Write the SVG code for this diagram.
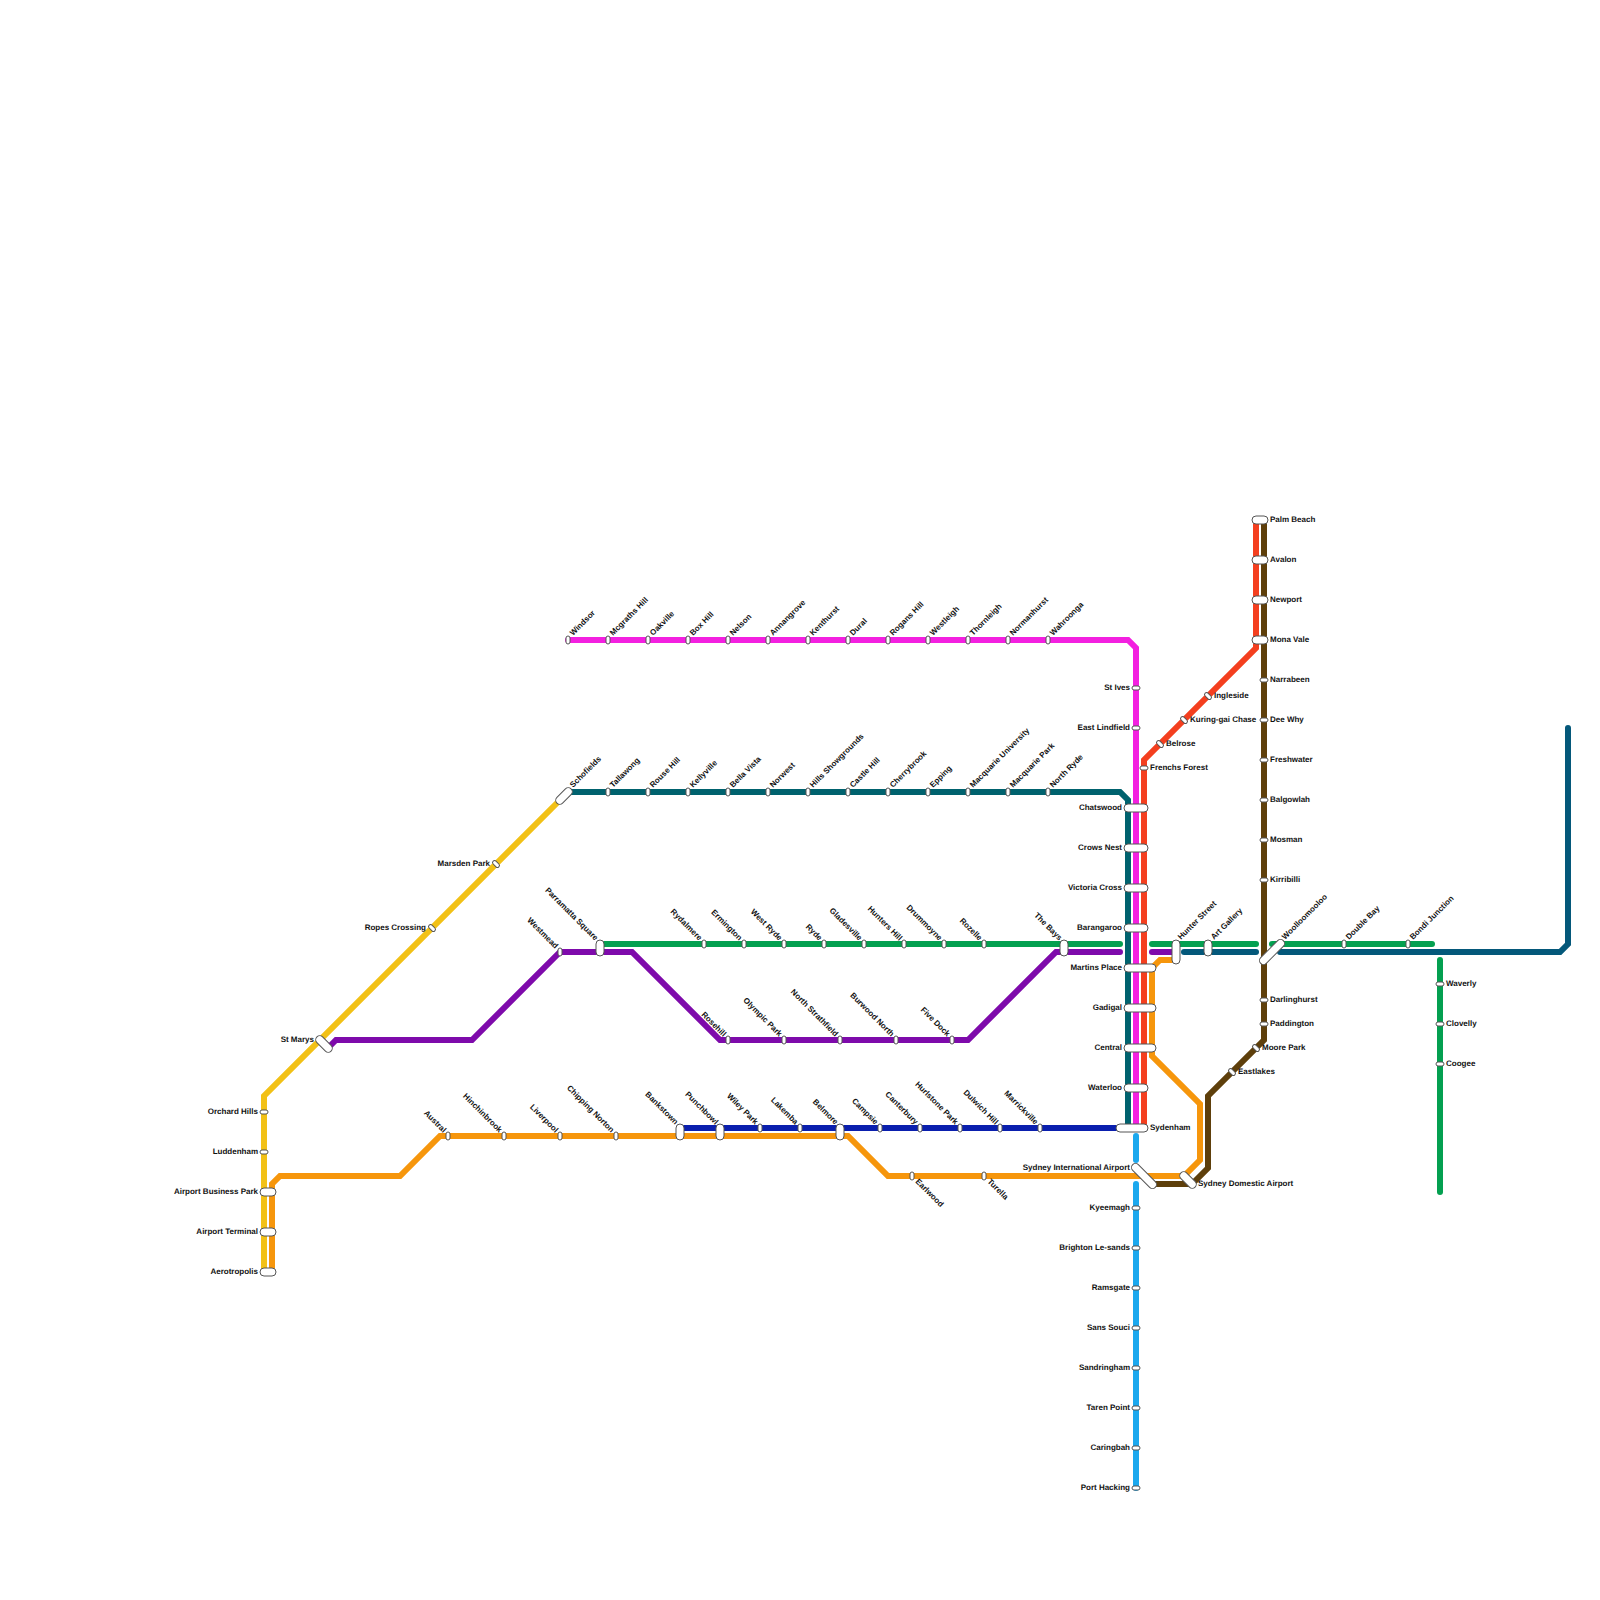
<svg xmlns="http://www.w3.org/2000/svg" width="1600" height="1600" viewBox="0 0 1600 1600">
<style>
text{font-family:"Liberation Sans",Arial,sans-serif;font-size:8px;font-weight:bold;fill:#111;text-rendering:geometricPrecision}
.l{text-anchor:end}
.ln{fill:none;stroke-width:6;stroke-linecap:round;stroke-linejoin:miter}
rect,use{fill:#fff;stroke:#555;stroke-width:1}
</style>
<defs>
<rect id="sv" x="-2" y="-4" width="4" height="8" rx="2"/>
<rect id="sh" x="-4" y="-2" width="8" height="4" rx="2"/>
<rect id="m8" x="-4" y="-8" width="8" height="16" rx="4"/>
<rect id="h24" x="-12" y="-4" width="24" height="8" rx="4"/>
<rect id="h32" x="-16" y="-4" width="32" height="8" rx="4"/>
<rect id="h16" x="-8" y="-4" width="16" height="8" rx="4"/>
</defs>
<rect x="0" y="0" width="1600" height="1600" style="fill:#fff;stroke:none"/>
<g id="connectors">
<path class="ln" style="stroke:#f2c116" d="M264 1272V1096L568 792"/>
<path class="ln" style="stroke:#f6960c" d="M272 1272V1184L280 1176H400L440 1136H848L888 1176H1184L1200 1160V1104L1152 1056V968L1160 960H1176"/>
<path class="ln" style="stroke:#5e3f0b" d="M1264 520V1040L1208 1096V1168L1192 1184H1152"/>
<path class="ln" style="stroke:#f43f1f" d="M1144 1128V760L1256 648V520"/>
<path class="ln" style="stroke:#00626e" d="M568 792H1120L1128 800V1128"/>
<path class="ln" style="stroke:#f320e0" d="M568 640H1128L1136 648V1128"/>
<path class="ln" style="stroke:#0a1fae" d="M680 1128H1120"/>
<path class="ln" style="stroke:#7e0aab" d="M328 1048L336 1040H472L560 952H632L720 1040H968L1056 952H1120"/>
<path class="ln" style="stroke:#7e0aab" d="M1152 952H1176"/>
<path class="ln" style="stroke:#04a050" d="M600 944H1120"/>
<path class="ln" style="stroke:#04a050" d="M1152 944H1256"/>
<path class="ln" style="stroke:#04a050" d="M1272 944H1432"/>
<path class="ln" style="stroke:#04a050" d="M1440 960V1192"/>
<path class="ln" style="stroke:#04587a" d="M1184 952H1256"/>
<path class="ln" style="stroke:#04587a" d="M1280 952H1560L1568 944V728"/>
<path class="ln" style="stroke:#1ba8ee" d="M1136 1136V1160"/>
<path class="ln" style="stroke:#1ba8ee" d="M1136 1184V1488"/>
</g>
<g id="n-windsor"><use href="#sv" x="568" y="640"/><text transform="translate(573 636) rotate(-45)">Windsor</text></g>
<g id="n-mcgraths-hill"><use href="#sv" x="608" y="640"/><text transform="translate(613 636) rotate(-45)">Mcgraths Hill</text></g>
<g id="n-oakville"><use href="#sv" x="648" y="640"/><text transform="translate(653 636) rotate(-45)">Oakville</text></g>
<g id="n-box-hill"><use href="#sv" x="688" y="640"/><text transform="translate(693 636) rotate(-45)">Box Hill</text></g>
<g id="n-nelson"><use href="#sv" x="728" y="640"/><text transform="translate(733 636) rotate(-45)">Nelson</text></g>
<g id="n-annangrove"><use href="#sv" x="768" y="640"/><text transform="translate(773 636) rotate(-45)">Annangrove</text></g>
<g id="n-kenthurst"><use href="#sv" x="808" y="640"/><text transform="translate(813 636) rotate(-45)">Kenthurst</text></g>
<g id="n-dural"><use href="#sv" x="848" y="640"/><text transform="translate(853 636) rotate(-45)">Dural</text></g>
<g id="n-rogans-hill"><use href="#sv" x="888" y="640"/><text transform="translate(893 636) rotate(-45)">Rogans Hill</text></g>
<g id="n-westleigh"><use href="#sv" x="928" y="640"/><text transform="translate(933 636) rotate(-45)">Westleigh</text></g>
<g id="n-thornleigh"><use href="#sv" x="968" y="640"/><text transform="translate(973 636) rotate(-45)">Thornleigh</text></g>
<g id="n-normanhurst"><use href="#sv" x="1008" y="640"/><text transform="translate(1013 636) rotate(-45)">Normanhurst</text></g>
<g id="n-wahroonga"><use href="#sv" x="1048" y="640"/><text transform="translate(1053 636) rotate(-45)">Wahroonga</text></g>
<g id="n-st-ives"><use href="#sh" x="1136" y="688"/><text class="l" x="1130" y="690">St Ives</text></g>
<g id="n-east-lindfield"><use href="#sh" x="1136" y="728"/><text class="l" x="1130" y="730">East Lindfield</text></g>
<g id="n-schofields"><rect x="-10" y="-4" width="20" height="8" rx="4" transform="translate(564 796) rotate(-45)"/><text transform="translate(573 788) rotate(-45)">Schofields</text></g>
<g id="n-tallawong"><use href="#sv" x="608" y="792"/><text transform="translate(613 788) rotate(-45)">Tallawong</text></g>
<g id="n-rouse-hill"><use href="#sv" x="648" y="792"/><text transform="translate(653 788) rotate(-45)">Rouse Hill</text></g>
<g id="n-kellyville"><use href="#sv" x="688" y="792"/><text transform="translate(693 788) rotate(-45)">Kellyville</text></g>
<g id="n-bella-vista"><use href="#sv" x="728" y="792"/><text transform="translate(733 788) rotate(-45)">Bella Vista</text></g>
<g id="n-norwest"><use href="#sv" x="768" y="792"/><text transform="translate(773 788) rotate(-45)">Norwest</text></g>
<g id="n-hills-showgrounds"><use href="#sv" x="808" y="792"/><text transform="translate(813 788) rotate(-45)">Hills Showgrounds</text></g>
<g id="n-castle-hill"><use href="#sv" x="848" y="792"/><text transform="translate(853 788) rotate(-45)">Castle Hill</text></g>
<g id="n-cherrybrook"><use href="#sv" x="888" y="792"/><text transform="translate(893 788) rotate(-45)">Cherrybrook</text></g>
<g id="n-epping"><use href="#sv" x="928" y="792"/><text transform="translate(933 788) rotate(-45)">Epping</text></g>
<g id="n-macquarie-university"><use href="#sv" x="968" y="792"/><text transform="translate(973 788) rotate(-45)">Macquarie University</text></g>
<g id="n-macquarie-park"><use href="#sv" x="1008" y="792"/><text transform="translate(1013 788) rotate(-45)">Macquarie Park</text></g>
<g id="n-north-ryde"><use href="#sv" x="1048" y="792"/><text transform="translate(1053 788) rotate(-45)">North Ryde</text></g>
<g id="n-chatswood"><use href="#h24" x="1136" y="808"/><text class="l" x="1122" y="810">Chatswood</text></g>
<g id="n-crows-nest"><use href="#h24" x="1136" y="848"/><text class="l" x="1122" y="850">Crows Nest</text></g>
<g id="n-victoria-cross"><use href="#h24" x="1136" y="888"/><text class="l" x="1122" y="890">Victoria Cross</text></g>
<g id="n-barangaroo"><use href="#h24" x="1136" y="928"/><text class="l" x="1122" y="930">Barangaroo</text></g>
<g id="n-martins-place"><use href="#h32" x="1140" y="968"/><text class="l" x="1122" y="970">Martins Place</text></g>
<g id="n-gadigal"><use href="#h32" x="1140" y="1008"/><text class="l" x="1122" y="1010">Gadigal</text></g>
<g id="n-central"><use href="#h32" x="1140" y="1048"/><text class="l" x="1122" y="1050">Central</text></g>
<g id="n-waterloo"><use href="#h24" x="1136" y="1088"/><text class="l" x="1122" y="1090">Waterloo</text></g>
<g id="n-sydenham"><use href="#h32" x="1132" y="1128"/><text x="1150" y="1130">Sydenham</text></g>
<g id="n-frenchs-forest"><use href="#sh" x="1144" y="768"/><text x="1150" y="770">Frenchs Forest</text></g>
<g id="n-belrose"><use href="#sh" transform="translate(1160 744) rotate(45)"/><text x="1166" y="746">Belrose</text></g>
<g id="n-kuring-gai-chase"><use href="#sh" transform="translate(1184 720) rotate(45)"/><text x="1190" y="722">Kuring-gai Chase</text></g>
<g id="n-ingleside"><use href="#sh" transform="translate(1208 696) rotate(45)"/><text x="1214" y="698">Ingleside</text></g>
<g id="n-palm-beach"><use href="#h16" x="1260" y="520"/><text x="1270" y="522">Palm Beach</text></g>
<g id="n-avalon"><use href="#h16" x="1260" y="560"/><text x="1270" y="562">Avalon</text></g>
<g id="n-newport"><use href="#h16" x="1260" y="600"/><text x="1270" y="602">Newport</text></g>
<g id="n-mona-vale"><use href="#h16" x="1260" y="640"/><text x="1270" y="642">Mona Vale</text></g>
<g id="n-narrabeen"><use href="#sh" x="1264" y="680"/><text x="1270" y="682">Narrabeen</text></g>
<g id="n-dee-why"><use href="#sh" x="1264" y="720"/><text x="1270" y="722">Dee Why</text></g>
<g id="n-freshwater"><use href="#sh" x="1264" y="760"/><text x="1270" y="762">Freshwater</text></g>
<g id="n-balgowlah"><use href="#sh" x="1264" y="800"/><text x="1270" y="802">Balgowlah</text></g>
<g id="n-mosman"><use href="#sh" x="1264" y="840"/><text x="1270" y="842">Mosman</text></g>
<g id="n-kirribilli"><use href="#sh" x="1264" y="880"/><text x="1270" y="882">Kirribilli</text></g>
<g id="n-darlinghurst"><use href="#sh" x="1264" y="1000"/><text x="1270" y="1002">Darlinghurst</text></g>
<g id="n-paddington"><use href="#sh" x="1264" y="1024"/><text x="1270" y="1026">Paddington</text></g>
<g id="n-moore-park"><use href="#sh" transform="translate(1256 1048) rotate(45)"/><text x="1262" y="1050">Moore Park</text></g>
<g id="n-eastlakes"><use href="#sh" transform="translate(1232 1072) rotate(45)"/><text x="1238" y="1074">Eastlakes</text></g>
<g id="n-woolloomooloo"><rect x="-16" y="-4" width="32" height="8" rx="4" transform="translate(1272 952) rotate(-45)"/><text transform="translate(1285 940) rotate(-45)">Woolloomooloo</text></g>
<g id="n-hunter-street"><rect x="-4" y="-12" width="8" height="24" rx="4" transform="translate(1176 952)"/><text transform="translate(1181 940) rotate(-45)">Hunter Street</text></g>
<g id="n-art-gallery"><use href="#m8" x="1208" y="948"/><text transform="translate(1214 940) rotate(-45)">Art Gallery</text></g>
<g id="n-double-bay"><use href="#sv" x="1344" y="944"/><text transform="translate(1349 940) rotate(-45)">Double Bay</text></g>
<g id="n-bondi-junction"><use href="#sv" x="1408" y="944"/><text transform="translate(1413 940) rotate(-45)">Bondi Junction</text></g>
<g id="n-waverly"><use href="#sh" x="1440" y="984"/><text x="1446" y="986">Waverly</text></g>
<g id="n-clovelly"><use href="#sh" x="1440" y="1024"/><text x="1446" y="1026">Clovelly</text></g>
<g id="n-coogee"><use href="#sh" x="1440" y="1064"/><text x="1446" y="1066">Coogee</text></g>
<g id="n-parramatta-square"><use href="#m8" x="600" y="948"/><text class="l" transform="translate(595 941) rotate(45)">Parramatta Square</text></g>
<g id="n-rydalmere"><use href="#sv" x="704" y="944"/><text class="l" transform="translate(699 941) rotate(45)">Rydalmere</text></g>
<g id="n-ermington"><use href="#sv" x="744" y="944"/><text class="l" transform="translate(739 941) rotate(45)">Ermington</text></g>
<g id="n-west-ryde"><use href="#sv" x="784" y="944"/><text class="l" transform="translate(779 941) rotate(45)">West Ryde</text></g>
<g id="n-ryde"><use href="#sv" x="824" y="944"/><text class="l" transform="translate(819 941) rotate(45)">Ryde</text></g>
<g id="n-gladesville"><use href="#sv" x="864" y="944"/><text class="l" transform="translate(859 941) rotate(45)">Gladesville</text></g>
<g id="n-hunters-hill"><use href="#sv" x="904" y="944"/><text class="l" transform="translate(899 941) rotate(45)">Hunters Hill</text></g>
<g id="n-drummoyne"><use href="#sv" x="944" y="944"/><text class="l" transform="translate(939 941) rotate(45)">Drummoyne</text></g>
<g id="n-rozelle"><use href="#sv" x="984" y="944"/><text class="l" transform="translate(979 941) rotate(45)">Rozelle</text></g>
<g id="n-the-bays"><use href="#m8" x="1064" y="948"/><text class="l" transform="translate(1059 941) rotate(45)">The Bays</text></g>
<g id="n-westmead"><use href="#sv" x="560" y="952"/><text class="l" transform="translate(555 949) rotate(45)">Westmead</text></g>
<g id="n-rosehill"><use href="#sv" x="728" y="1040"/><text class="l" transform="translate(723 1037) rotate(45)">Rosehill</text></g>
<g id="n-olympic-park"><use href="#sv" x="784" y="1040"/><text class="l" transform="translate(779 1037) rotate(45)">Olympic Park</text></g>
<g id="n-north-strathfield"><use href="#sv" x="840" y="1040"/><text class="l" transform="translate(835 1037) rotate(45)">North Strathfield</text></g>
<g id="n-burwood-north"><use href="#sv" x="896" y="1040"/><text class="l" transform="translate(891 1037) rotate(45)">Burwood North</text></g>
<g id="n-five-dock"><use href="#sv" x="952" y="1040"/><text class="l" transform="translate(947 1037) rotate(45)">Five Dock</text></g>
<g id="n-st-marys"><rect x="-10" y="-4" width="20" height="8" rx="4" transform="translate(324 1044) rotate(45)"/><text class="l" x="314" y="1042">St Marys</text></g>
<g id="n-marsden-park"><use href="#sh" transform="translate(496 864) rotate(45)"/><text class="l" x="490" y="866">Marsden Park</text></g>
<g id="n-ropes-crossing"><use href="#sh" transform="translate(432 928) rotate(45)"/><text class="l" x="426" y="930">Ropes Crossing</text></g>
<g id="n-orchard-hills"><use href="#sh" x="264" y="1112"/><text class="l" x="258" y="1114">Orchard Hills</text></g>
<g id="n-luddenham"><use href="#sh" x="264" y="1152"/><text class="l" x="258" y="1154">Luddenham</text></g>
<g id="n-airport-business-park"><use href="#h16" x="268" y="1192"/><text class="l" x="258" y="1194">Airport Business Park</text></g>
<g id="n-airport-terminal"><use href="#h16" x="268" y="1232"/><text class="l" x="258" y="1234">Airport Terminal</text></g>
<g id="n-aerotropolis"><use href="#h16" x="268" y="1272"/><text class="l" x="258" y="1274">Aerotropolis</text></g>
<g id="n-austral"><use href="#sv" x="448" y="1136"/><text class="l" transform="translate(443 1133) rotate(45)">Austral</text></g>
<g id="n-hinchinbrook"><use href="#sv" x="504" y="1136"/><text class="l" transform="translate(499 1133) rotate(45)">Hinchinbrook</text></g>
<g id="n-liverpool"><use href="#sv" x="560" y="1136"/><text class="l" transform="translate(555 1133) rotate(45)">Liverpool</text></g>
<g id="n-chipping-norton"><use href="#sv" x="616" y="1136"/><text class="l" transform="translate(611 1133) rotate(45)">Chipping Norton</text></g>
<g id="n-bankstown"><use href="#m8" x="680" y="1132"/><text class="l" transform="translate(675 1125) rotate(45)">Bankstown</text></g>
<g id="n-punchbowl"><use href="#m8" x="720" y="1132"/><text class="l" transform="translate(715 1125) rotate(45)">Punchbowl</text></g>
<g id="n-wiley-park"><use href="#sv" x="760" y="1128"/><text class="l" transform="translate(755 1125) rotate(45)">Wiley Park</text></g>
<g id="n-lakemba"><use href="#sv" x="800" y="1128"/><text class="l" transform="translate(795 1125) rotate(45)">Lakemba</text></g>
<g id="n-belmore"><use href="#m8" x="840" y="1132"/><text class="l" transform="translate(835 1125) rotate(45)">Belmore</text></g>
<g id="n-campsie"><use href="#sv" x="880" y="1128"/><text class="l" transform="translate(875 1125) rotate(45)">Campsie</text></g>
<g id="n-canterbury"><use href="#sv" x="920" y="1128"/><text class="l" transform="translate(915 1125) rotate(45)">Canterbury</text></g>
<g id="n-hurlstone-park"><use href="#sv" x="960" y="1128"/><text class="l" transform="translate(955 1125) rotate(45)">Hurlstone Park</text></g>
<g id="n-dulwich-hill"><use href="#sv" x="1000" y="1128"/><text class="l" transform="translate(995 1125) rotate(45)">Dulwich Hill</text></g>
<g id="n-marrickville"><use href="#sv" x="1040" y="1128"/><text class="l" transform="translate(1035 1125) rotate(45)">Marrickville</text></g>
<g id="n-earlwood"><use href="#sv" x="912" y="1176"/><text transform="translate(915 1182) rotate(45)">Earlwood</text></g>
<g id="n-turella"><use href="#sv" x="984" y="1176"/><text transform="translate(987 1182) rotate(45)">Turella</text></g>
<g id="n-sydney-international-airport"><rect x="-16" y="-4" width="32" height="8" rx="4" transform="translate(1144 1176) rotate(45)"/><text class="l" x="1130" y="1170">Sydney International Airport</text></g>
<g id="n-sydney-domestic-airport"><rect x="-10" y="-4" width="20" height="8" rx="4" transform="translate(1188 1180) rotate(45)"/><text x="1198" y="1186">Sydney Domestic Airport</text></g>
<g id="n-kyeemagh"><use href="#sh" x="1136" y="1208"/><text class="l" x="1130" y="1210">Kyeemagh</text></g>
<g id="n-brighton-le-sands"><use href="#sh" x="1136" y="1248"/><text class="l" x="1130" y="1250">Brighton Le-sands</text></g>
<g id="n-ramsgate"><use href="#sh" x="1136" y="1288"/><text class="l" x="1130" y="1290">Ramsgate</text></g>
<g id="n-sans-souci"><use href="#sh" x="1136" y="1328"/><text class="l" x="1130" y="1330">Sans Souci</text></g>
<g id="n-sandringham"><use href="#sh" x="1136" y="1368"/><text class="l" x="1130" y="1370">Sandringham</text></g>
<g id="n-taren-point"><use href="#sh" x="1136" y="1408"/><text class="l" x="1130" y="1410">Taren Point</text></g>
<g id="n-caringbah"><use href="#sh" x="1136" y="1448"/><text class="l" x="1130" y="1450">Caringbah</text></g>
<g id="n-port-hacking"><use href="#sh" x="1136" y="1488"/><text class="l" x="1130" y="1490">Port Hacking</text></g>
</svg>
